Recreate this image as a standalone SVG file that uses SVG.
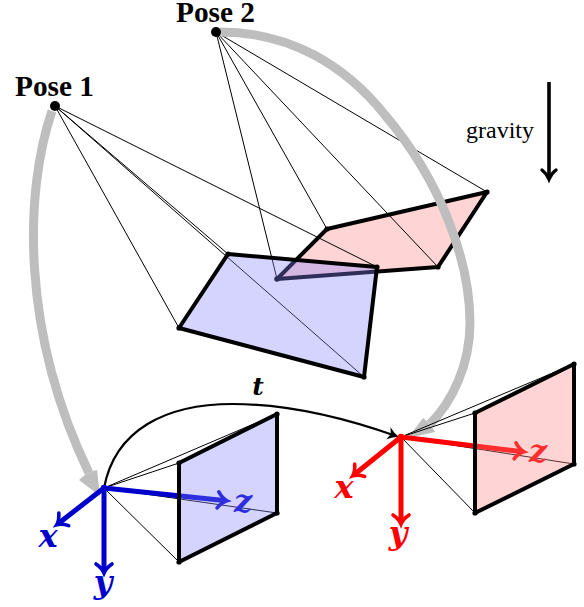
<svg xmlns="http://www.w3.org/2000/svg" width="584" height="607" viewBox="0 0 584 607">
<style>
.ray{fill:none;stroke:#000;stroke-width:1}
.edge{stroke:#000;stroke-width:4;stroke-linejoin:round}
.bq{fill:rgb(132,132,255);fill-opacity:.35}
.rq{fill:rgb(255,132,132);fill-opacity:.35}
.dot{fill:#000}
.gray{fill:none;stroke:#bebebe;stroke-width:9}
.graytip{fill:#bebebe}
.ax{fill:none;stroke-width:5}
.b{stroke:#0000cc}
.r{stroke:#ff0000}
.pose{font:bold 29.3px "Liberation Serif",serif;fill:#000}
.grav{font:24px "Liberation Serif",serif;fill:#000}
.m{font:italic bold 32px "DejaVu Serif",serif;text-anchor:middle}
</style>
<defs>
<marker id="hb" markerUnits="userSpaceOnUse" markerWidth="30" markerHeight="30" refX="15" refY="15" orient="auto" overflow="visible"><path d="M9,7 Q13,13 18,15 Q13,17 9,23" fill="none" stroke="#0000cc" stroke-width="3.6" stroke-linecap="round"/></marker>
<marker id="hr" markerUnits="userSpaceOnUse" markerWidth="30" markerHeight="30" refX="15" refY="15" orient="auto" overflow="visible"><path d="M9,7 Q13,13 18,15 Q13,17 9,23" fill="none" stroke="#ff0000" stroke-width="3.6" stroke-linecap="round"/></marker>
<marker id="hk" markerUnits="userSpaceOnUse" markerWidth="30" markerHeight="30" refX="15" refY="15" orient="auto" overflow="visible"><path d="M9,8 Q13,13 18,15 Q13,17 9,22" fill="none" stroke="#000" stroke-width="3.4" stroke-linecap="round"/></marker>
<marker id="hs" markerUnits="userSpaceOnUse" markerWidth="30" markerHeight="30" refX="15" refY="15" orient="auto" overflow="visible"><path d="M8,10 Q13,14 17,15 Q13,16 8,20 L10,15 Z" fill="#000" stroke="#000" stroke-width="1"/></marker>
</defs>

<g id="pose-2-plane">
<path class="rq" d="M327,229L487,192L438,267L277,279Z"/>
<path class="edge" fill="none" d="M327,229L487,192L438,267L277,279Z"/>
</g>
<g id="connectors">
<g id="rays-pose-2">
<path class="ray" d="M216,32L327,229M216,32L487,192M216,32L438,267M216,32L277,279"/>
</g>
<g id="rays-pose-1">
<path class="ray" d="M55,106L228,254M55,106L377,267M55,106L364,377M55,106L179,328"/>
</g>
</g>
<g id="pose-1-plane">
<path class="bq" d="M228,254L377,267L364,377L179,328Z"/>
<path class="edge" fill="none" d="M228,254L377,267L364,377L179,328Z"/>
<g class="dot"><circle cx="228" cy="254" r="2.6"/><circle cx="377" cy="267" r="2.6"/><circle cx="364" cy="377" r="2.6"/><circle cx="179" cy="328" r="2.6"/></g>
</g>
<g id="pose-2-dots" class="dot">
<circle cx="327" cy="229" r="2.6"/><circle cx="487" cy="192" r="2.6"/><circle cx="438" cy="267" r="2.6"/>
</g>
<circle cx="277" cy="279" r="2.8" fill="#2e2e59"/>

<g id="pose-transfers">
<path class="gray" d="M52,111C25,190 20,330 89,473"/>
<path class="graytip" d="M100,496L79,480L85,475L93,471L97,470Z"/>
<path class="gray" d="M220,32C290,32 345,65 385,115C440,180 470,260 470,323C470,365 452,402 430,424"/>
<path class="graytip" d="M408,438L423,418L428,422L432,427L435,432Z"/>
</g>

<g id="pose-1">
<circle class="dot" cx="55" cy="106" r="5"/>
<text class="pose" x="15" y="96">Pose 1</text>
</g>
<g id="pose-2">
<circle class="dot" cx="216" cy="32" r="5"/>
<text class="pose" x="176" y="22">Pose 2</text>
</g>

<g id="gravity">
<text class="grav" x="466" y="138">gravity</text>
<path fill="none" stroke="#000" stroke-width="3.6" d="M549,82V176" marker-end="url(#hk)"/>
</g>

<g id="camera-1">
<g id="camera-1-rays"><path class="ray" d="M104,488L179,463M104,488L277,414M104,488L277,513M104,488L179,562"/></g>
<path class="ax b" d="M104,488L224,500.5" marker-end="url(#hb)"/>
<text class="m" x="243" y="512" fill="#0000cc">z</text>
<path class="bq" d="M179,463L277,414V513L179,562Z"/>
<path class="edge" fill="none" d="M179,463L277,414V513L179,562Z"/>
<g class="dot"><circle cx="179" cy="463" r="2.6"/><circle cx="277" cy="414" r="2.6"/><circle cx="277" cy="513" r="2.6"/><circle cx="179" cy="562" r="2.6"/></g>
</g>

<g id="camera-2">
<g id="camera-2-rays"><path class="ray" d="M401,437L475,413M401,437L574,364M401,437L574,464M401,437L475,513"/></g>
<path class="ax r" d="M401,437L521,451.5" marker-end="url(#hr)"/>
<text class="m" x="538" y="462" fill="#ff0000">z</text>
<path class="rq" d="M475,413L574,364V464L475,513Z"/>
<path class="edge" fill="none" d="M475,413L574,364V464L475,513Z"/>
<g class="dot"><circle cx="475" cy="413" r="2.6"/><circle cx="574" cy="364" r="2.6"/><circle cx="574" cy="464" r="2.6"/><circle cx="475" cy="513" r="2.6"/></g>
</g>

<g id="translation">
<path fill="none" stroke="#000" stroke-width="2.2" d="M104,488C115,430 165,404 233,404C290,404 345,418 396,436" marker-end="url(#hs)"/>
<text x="258" y="395" font-family="DejaVu Serif,serif" font-style="italic" font-weight="bold" font-size="25" text-anchor="middle">t</text>
</g>

<g id="axes-1">
<path class="ax b" d="M104,488L59,523" marker-end="url(#hb)"/>
<path class="ax b" d="M104,488V570" marker-end="url(#hb)"/>
<circle cx="104" cy="488" r="3.2" fill="#0000cc"/>
<text class="m" x="48" y="547" fill="#0000cc">x</text>
<text class="m" x="103" y="593" fill="#0000cc">y</text>
</g>
<g id="axes-2">
<path class="ax r" d="M401,437L355,474" marker-end="url(#hr)"/>
<path class="ax r" d="M401,437V521" marker-end="url(#hr)"/>
<circle cx="401" cy="437" r="3.2" fill="#ff0000"/>
<text class="m" x="344" y="498" fill="#ff0000">x</text>
<text class="m" x="398" y="544" fill="#ff0000">y</text>
</g>
</svg>
